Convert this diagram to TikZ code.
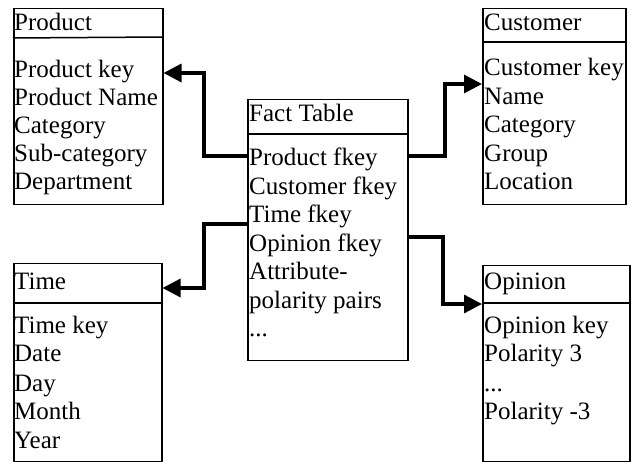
\documentclass[tikz,border=0pt]{standalone}
\usepackage{fontspec}
\setmainfont{Liberation Serif}
\usetikzlibrary{arrows.meta}
\begin{document}
\begin{tikzpicture}[x=1pt,y=-1pt,
  tbl/.style={draw, line width=1.5pt, rectangle, anchor=north west, inner sep=0pt},
  hline/.style={line width=1.5pt},
  txt/.style={anchor=base west, inner sep=0pt, font=\fontsize{25}{28}\selectfont},
  conn/.style={line width=3.2pt, -{Triangle[length=18pt,width=18pt]}}]
\useasboundingbox (0,0) rectangle (632,462);
% boxes
\node[tbl, minimum width=149pt, minimum height=196pt] (prod) at (13,8) {};
\node[tbl, minimum width=160pt, minimum height=261pt] (fact) at (247,99) {};
\node[tbl, minimum width=143pt, minimum height=196pt] (cust) at (482,8) {};
\node[tbl, minimum width=148pt, minimum height=198pt] (time) at (13,263) {};
\node[tbl, minimum width=147pt, minimum height=196pt] (opin) at (482,265) {};
% header separators
\draw[hline] (prod.west |- 0,38) -- (prod.east |- 0,37);
\draw[hline] (fact.west |- 0,134) -- (fact.east |- 0,134);
\draw[hline] (cust.west |- 0,42) -- (cust.east |- 0,42);
\draw[hline] (time.west |- 0,303) -- (time.east |- 0,303);
\draw[hline] (opin.west |- 0,303) -- (opin.east |- 0,303);
% Product
\node[txt] (ph) at (14,31) {Product};
\node[txt] (p1) at (14,78) {Product key};
\node[txt] (p2) at (14,106) {Product Name};
\node[txt] (p3) at (14,134) {Category};
\node[txt] (p4) at (14,162) {Sub-category};
\node[txt] (p5) at (14,190) {Department};
% Fact
\node[txt] (fh) at (249,122) {Fact Table};
\node[txt] (f1) at (249,166) {Product fkey};
\node[txt] (f2) at (249,194.5) {Customer fkey};
\node[txt] (f3) at (249,223) {Time fkey};
\node[txt] (f4) at (249,251.5) {Opinion fkey};
\node[txt] (f5) at (249,280) {Attribute-};
\node[txt] (f6) at (249,308.5) {polarity pairs};
\node[txt] (f7) at (249,337) {...};
% Customer
\node[txt] (ch) at (484,31) {Customer};
\node[txt] (c1) at (484,76) {Customer key};
\node[txt] (c2) at (484,104.5) {Name};
\node[txt] (c3) at (484,133) {Category};
\node[txt] (c4) at (484,161.5) {Group};
\node[txt] (c5) at (484,190) {Location};
% Time
\node[txt] (th) at (14,290) {Time};
\node[txt] (t1) at (14,334) {Time key};
\node[txt] (t2) at (14,362) {Date};
\node[txt] (t3) at (14,391) {Day};
\node[txt] (t4) at (14,419) {Month};
\node[txt] (t5) at (14,448) {Year};
% Opinion
\node[txt] (oh) at (484,290) {Opinion};
\node[txt] (o1) at (484,334) {Opinion key};
\node[txt] (o2) at (484,362) {Polarity 3};
\node[txt] (o3) at (484,391) {...};
\node[txt] (o4) at (484,419) {Polarity -3};
% anchor coordinates
\coordinate (pin) at (162,73);
\coordinate (cin) at (482,84);
\coordinate (tin) at (161,288);
\coordinate (oin) at (482,304);
% connectors
\draw[conn] (fact.west |- 0,156) -| (204,73) -- (prod.east |- pin);
\draw[conn] (fact.east |- 0,156) -| (445,84) -- (cust.west |- cin);
\draw[conn] (fact.west |- 0,224) -| (204,288) -- (time.east |- tin);
\draw[conn] (fact.east |- 0,237) -| (443,304) -- (opin.west |- oin);
\end{tikzpicture}
\end{document}
